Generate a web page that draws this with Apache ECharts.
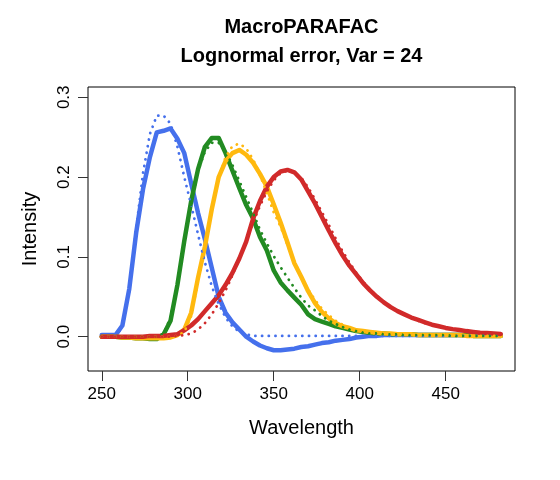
<!DOCTYPE html>
<html>
<head>
<meta charset="utf-8">
<script src="https://cdn.jsdelivr.net/npm/echarts@6/dist/echarts.min.js"></script>
<style>
  html, body { margin: 0; padding: 0; background: #fff; }
  #main { width: 560px; height: 480px; }
</style>
</head>
<body>
<div id="main"></div>
<script>
// wavelength grid (nm)
var wavelength = [250, 254, 258, 262, 266, 270, 274, 278, 282, 286, 290, 294, 298, 302, 306, 310, 314, 318, 322, 326,
  330, 334, 338, 342, 346, 350, 354, 358, 362, 366, 370, 374, 378, 382, 386, 390, 394, 398, 402, 406,
  410, 414, 418, 422, 426, 430, 434, 438, 442, 446, 450, 454, 458, 462, 466, 470, 474, 478, 482]

// estimated components (solid)
var blueEst = [0.002, 0.002, 0.002, 0.014, 0.06, 0.13, 0.185, 0.225, 0.256, 0.258, 0.261, 0.248, 0.23, 0.192, 0.155, 0.122, 0.086, 0.05, 0.03, 0.018,
  0.009, 0.0, -0.006, -0.011, -0.0145, -0.017, -0.017, -0.016, -0.015, -0.013, -0.012, -0.010, -0.008, -0.007, -0.005, -0.004, -0.003, -0.001, 0.0, 0.001,
  0.001, 0.002, 0.002, 0.002, 0.002, 0.002, 0.002, 0.002, 0.002, 0.002, 0.002, 0.002, 0.002, 0.002, 0.002, 0.002, 0.002, 0.002, 0.002]
var greenEst = [0.0, 0.0, 0.0, -0.001, -0.001, -0.002, -0.002, -0.003, -0.003, 0.003, 0.02, 0.065, 0.12, 0.17, 0.21, 0.238, 0.249, 0.249, 0.23, 0.208,
  0.186, 0.165, 0.148, 0.125, 0.108, 0.083, 0.068, 0.058, 0.049, 0.04, 0.028, 0.022, 0.019, 0.016, 0.013, 0.011, 0.009, 0.007, 0.006, 0.005,
  0.004, 0.004, 0.003, 0.003, 0.003, 0.003, 0.002, 0.002, 0.002, 0.002, 0.002, 0.002, 0.002, 0.002, 0.001, 0.001, 0.001, 0.001, 0.001]
var goldEst = [0.0, 0.0, 0.0, -0.001, -0.001, -0.002, -0.002, -0.002, -0.002, -0.002, -0.001, 0.002, 0.009, 0.03, 0.074, 0.113, 0.16, 0.2, 0.22, 0.23,
  0.234, 0.228, 0.218, 0.204, 0.188, 0.166, 0.143, 0.118, 0.092, 0.075, 0.057, 0.042, 0.031, 0.023, 0.017, 0.013, 0.011, 0.008, 0.007, 0.006,
  0.005, 0.004, 0.004, 0.003, 0.003, 0.003, 0.002, 0.002, 0.002, 0.002, 0.002, 0.002, 0.002, 0.001, 0.001, 0.001, 0.001, 0.001, 0.001]
var redEst = [0.0, 0.0, 0.0, 0.0, 0.0, 0.0, 0.0, 0.001, 0.001, 0.001, 0.002, 0.003, 0.008, 0.014, 0.022, 0.032, 0.042, 0.052, 0.065, 0.08,
  0.098, 0.119, 0.148, 0.17, 0.188, 0.2, 0.207, 0.209, 0.206, 0.197, 0.182, 0.167, 0.15, 0.133, 0.117, 0.102, 0.089, 0.078, 0.067, 0.058,
  0.05, 0.043, 0.037, 0.032, 0.028, 0.024, 0.021, 0.018, 0.015, 0.013, 0.011, 0.0095, 0.0083, 0.007, 0.006, 0.005, 0.0045, 0.004, 0.0035]

// true components (dotted)
var blueTrue = [0.0, 0.0, 0.001, 0.012, 0.058, 0.135, 0.205, 0.254, 0.277, 0.277, 0.267, 0.238, 0.2, 0.165, 0.128, 0.093, 0.063, 0.041, 0.024, 0.013,
  0.006, 0.003, 0.001, 0.001, 0.001, 0.001, 0.001, 0.001, 0.001, 0.001, 0.001, 0.001, 0.001, 0.001, 0.001, 0.001, 0.001, 0.001, 0.001, 0.001,
  0.001, 0.001, 0.001, 0.001, 0.001, 0.001, 0.001, 0.001, 0.001, 0.001, 0.001, 0.001, 0.001, 0.001, 0.001, 0.001, 0.001, 0.001, 0.001]
var greenTrue = [0.0, 0.0, 0.0, 0.0, 0.0, 0.0, 0.0, 0.0, 0.0, 0.004, 0.024, 0.066, 0.118, 0.168, 0.208, 0.232, 0.243, 0.243, 0.232, 0.215,
  0.195, 0.175, 0.155, 0.134, 0.117, 0.101, 0.087, 0.074, 0.061, 0.049, 0.039, 0.033, 0.026, 0.02, 0.016, 0.012, 0.009, 0.007, 0.005, 0.004,
  0.004, 0.003, 0.003, 0.003, 0.002, 0.002, 0.002, 0.002, 0.002, 0.002, 0.002, 0.001, 0.001, 0.001, 0.001, 0.001, 0.001, 0.001, 0.001]
var goldTrue = [0.0, 0.0, 0.0, 0.0, 0.0, 0.0, 0.0, 0.0, 0.0, 0.0, 0.0, 0.001, 0.006, 0.026, 0.07, 0.115, 0.16, 0.198, 0.225, 0.239,
  0.242, 0.236, 0.222, 0.203, 0.18, 0.156, 0.138, 0.115, 0.094, 0.075, 0.059, 0.046, 0.035, 0.027, 0.02, 0.015, 0.011, 0.008, 0.006, 0.005,
  0.004, 0.004, 0.003, 0.003, 0.003, 0.002, 0.002, 0.002, 0.002, 0.002, 0.002, 0.002, 0.001, 0.001, 0.001, 0.001, 0.001, 0.001, 0.001]
var redTrue = [0.0, 0.0, 0.0, 0.0, 0.0, 0.0, 0.0, 0.0, 0.0, 0.0, 0.0, 0.001, 0.002, 0.004, 0.009, 0.017, 0.028, 0.042, 0.058, 0.077,
  0.098, 0.12, 0.143, 0.164, 0.182, 0.196, 0.205, 0.208, 0.206, 0.199, 0.187, 0.172, 0.156, 0.14, 0.123, 0.107, 0.093, 0.08, 0.069, 0.059,
  0.051, 0.044, 0.038, 0.032, 0.028, 0.024, 0.02, 0.017, 0.015, 0.013, 0.011, 0.009, 0.008, 0.007, 0.006, 0.005, 0.0045, 0.004, 0.0035]

var xTicks = [250, 300, 350, 400, 450]
var yTicks = [0, 0.1, 0.2, 0.3]

var colors = { blue: '#4570EC', green: '#228B22', gold: '#FFB90F', red: '#D12A2A' }
var font = "'Liberation Sans', Arial, Helvetica, sans-serif"

function pairs(vals) {
  return wavelength.map(function (w, i) { return [w, vals[i]] })
}

function solid(name, vals, color) {
  return {
    name: name, type: 'line', data: pairs(vals), showSymbol: false, smooth: false,
    lineStyle: { color: color, width: 4.5, join: 'round', cap: 'round' }, z: 2, silent: true
  }
}

function dotted(name, vals, color) {
  return {
    name: name, type: 'line', data: pairs(vals), showSymbol: false, smooth: false,
    lineStyle: { color: color, width: 2.8, type: [0.1, 6.6], cap: 'round' }, z: 3, silent: true
  }
}

var chart = echarts.init(document.getElementById('main'), null, { renderer: 'canvas' })

var option = {
  animation: false,
  backgroundColor: '#fff',
  grid: {
    left: 88, top: 87, right: 45, bottom: 109,
    show: true, borderColor: '#000', borderWidth: 1,
    outerBoundsMode: 'none', containLabel: false
  },
  xAxis: {
    type: 'value', min: 242, max: 490.3,
    axisLine: { show: false, onZero: false },
    axisTick: { show: true, inside: false, length: 10, lineStyle: { color: '#333' }, customValues: xTicks },
    axisLabel: { show: true, margin: 15, fontSize: 17, color: '#000', fontFamily: font, customValues: xTicks },
    splitLine: { show: false }
  },
  yAxis: {
    type: 'value', min: -0.043, max: 0.3129,
    axisLine: { show: false, onZero: false },
    axisTick: { show: true, inside: false, length: 10, lineStyle: { color: '#333' }, customValues: yTicks },
    axisLabel: {
      show: true, margin: 15, fontSize: 17, color: '#000', fontFamily: font, rotate: 90,
      customValues: yTicks,
      formatter: function (v) { return v.toFixed(1) }
    },
    splitLine: { show: false }
  },
  graphic: [
    { type: 'text', x: 301.5, y: 27, style: { text: 'MacroPARAFAC', fill: '#000', font: 'bold 20px ' + font, textAlign: 'center', textVerticalAlign: 'middle' } },
    { type: 'text', x: 301.5, y: 56, style: { text: 'Lognormal error, Var = 24', fill: '#000', font: 'bold 20px ' + font, textAlign: 'center', textVerticalAlign: 'middle' } },
    { type: 'text', x: 301.5, y: 428, style: { text: 'Wavelength', fill: '#000', font: '20px ' + font, textAlign: 'center', textVerticalAlign: 'middle' } },
    { type: 'text', x: 30, y: 229, rotation: Math.PI / 2, style: { text: 'Intensity', fill: '#000', font: '20px ' + font, textAlign: 'center', textVerticalAlign: 'middle' } }
  ],
  series: [
    solid('blue', blueEst, colors.blue),
    solid('green', greenEst, colors.green),
    solid('gold', goldEst, colors.gold),
    solid('red', redEst, colors.red),
    dotted('blue true', blueTrue, colors.blue),
    dotted('green true', greenTrue, colors.green),
    dotted('gold true', goldTrue, colors.gold),
    dotted('red true', redTrue, colors.red)
  ]
}

chart.setOption(option)
</script>
</body>
</html>
